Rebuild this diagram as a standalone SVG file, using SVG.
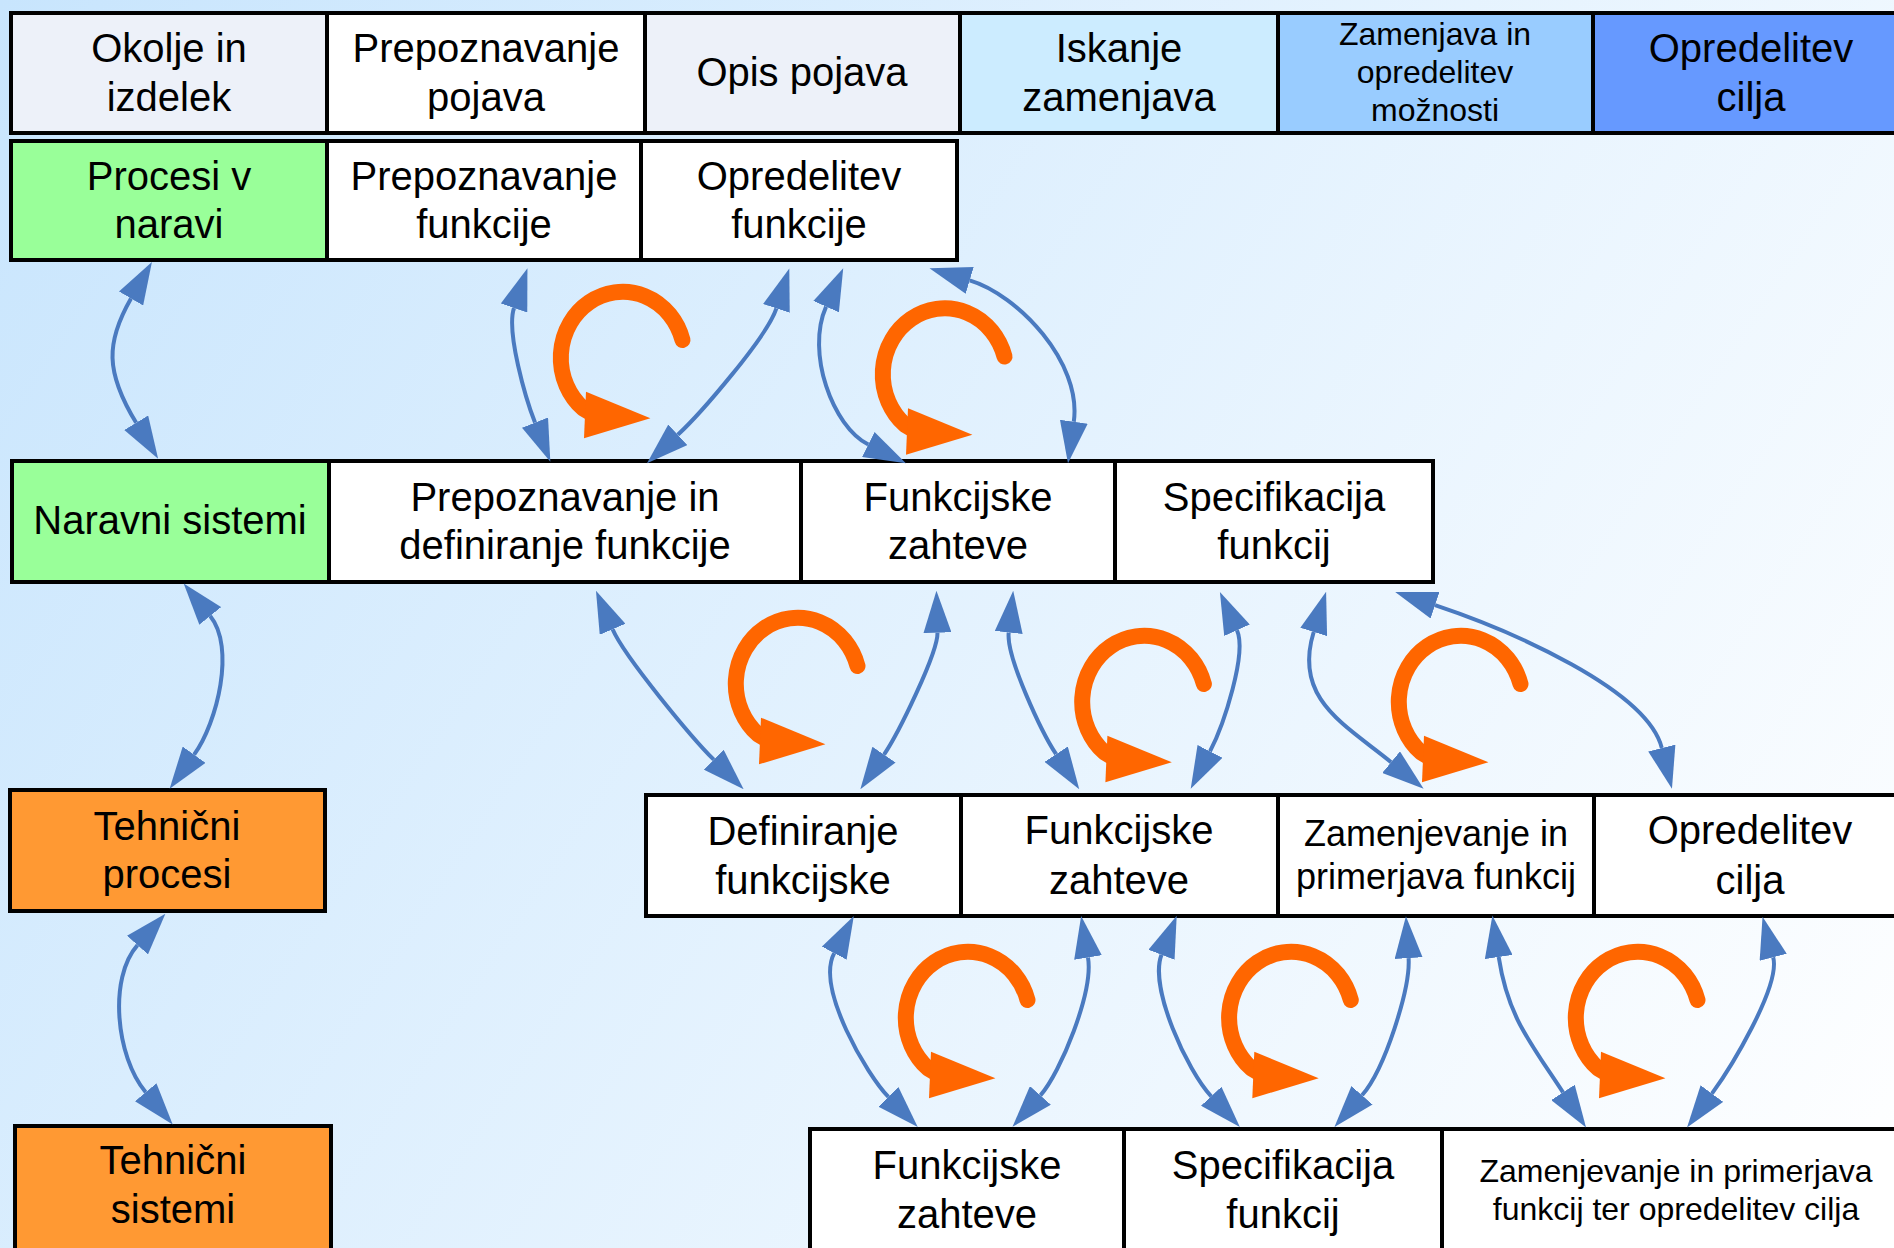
<svg xmlns="http://www.w3.org/2000/svg" xmlns:xlink="http://www.w3.org/1999/xlink" width="1894" height="1248" viewBox="0 0 1894 1248">
<style>
.box{stroke:#000;stroke-width:4}
.t{font-family:"Liberation Sans",Arial,Helvetica,sans-serif;font-size:40px;text-anchor:middle;fill:#000}
.s{font-size:32px}
.m{font-size:36px}
.conn{fill:none;stroke:#4A7AC0;stroke-width:4;marker-start:url(#ah);marker-end:url(#ah)}
</style>
<defs>
<linearGradient id="bg" x1="0" y1="0" x2="1894" y2="1248" gradientUnits="userSpaceOnUse">
<stop offset="0" stop-color="#C8E5FD"/>
<stop offset="1" stop-color="#FFFFFF"/>
</linearGradient>
<marker id="ah" viewBox="0 0 42 28" refX="0" refY="14" markerWidth="42" markerHeight="28" markerUnits="userSpaceOnUse" orient="auto-start-reverse">
<path d="M0,0L42,14L0,28z" fill="#4A7AC0"/>
</marker>
<g id="loop">
<path d="M59.5,-18 A62,66 0 1 0 -40,50.4 L-24,60" fill="none" stroke="#FF6600" stroke-width="16" stroke-linecap="round" stroke-linejoin="round"/>
<polygon points="-37,33.7 -39,80.3 27.4,60.3" fill="#FF6600"/>
</g>
</defs>
<rect x="0" y="0" width="1894" height="1248" fill="url(#bg)"/>

<g id="n-okolje"><rect class="box" x="11" y="13" width="316" height="120" fill="#EDF1F9"/><text class="t" x="169" y="62">Okolje in</text><text class="t" x="169" y="111">izdelek</text></g>
<g id="n-prep-pojava"><rect class="box" x="327" y="13" width="318" height="120" fill="#FFFFFF"/><text class="t" x="486" y="62">Prepoznavanje</text><text class="t" x="486" y="111">pojava</text></g>
<g id="n-opis-pojava"><rect class="box" x="645" y="13" width="315" height="120" fill="#EDF1F9"/><text class="t" x="802" y="86">Opis pojava</text></g>
<g id="n-iskanje"><rect class="box" x="960" y="13" width="318" height="120" fill="#CCECFF"/><text class="t" x="1119" y="62">Iskanje</text><text class="t" x="1119" y="111">zamenjava</text></g>
<g id="n-zamenjava"><rect class="box" x="1278" y="13" width="315" height="120" fill="#99CCFF"/><text class="t s" x="1435" y="45">Zamenjava in</text><text class="t s" x="1435" y="83">opredelitev</text><text class="t s" x="1435" y="121">možnosti</text></g>
<g id="n-opredelitev-cilja-top"><rect class="box" x="1593" y="13" width="320" height="120" fill="#6699FF"/><text class="t" x="1751" y="62">Opredelitev</text><text class="t" x="1751" y="111">cilja</text></g>

<g id="n-procesi-v-naravi"><rect class="box" x="11" y="141" width="316" height="119" fill="#99FF99"/><text class="t" x="169" y="190">Procesi v</text><text class="t" x="169" y="238">naravi</text></g>
<g id="n-prep-funkcije"><rect class="box" x="327" y="141" width="314" height="119" fill="#FFFFFF"/><text class="t" x="484" y="190">Prepoznavanje</text><text class="t" x="484" y="238">funkcije</text></g>
<g id="n-opredelitev-funkcije"><rect class="box" x="641" y="141" width="316" height="119" fill="#FFFFFF"/><text class="t" x="799" y="190">Opredelitev</text><text class="t" x="799" y="238">funkcije</text></g>

<g id="n-naravni-sistemi"><rect class="box" x="12" y="461" width="317" height="121" fill="#99FF99"/><text class="t" x="170" y="534">Naravni sistemi</text></g>
<g id="n-prep-def-funkcije"><rect class="box" x="329" y="461" width="472" height="121" fill="#FFFFFF"/><text class="t" x="565" y="511">Prepoznavanje in</text><text class="t" x="565" y="559">definiranje funkcije</text></g>
<g id="n-funkcijske-zahteve-3"><rect class="box" x="801" y="461" width="314" height="121" fill="#FFFFFF"/><text class="t" x="958" y="511">Funkcijske</text><text class="t" x="958" y="559">zahteve</text></g>
<g id="n-specifikacija-3"><rect class="box" x="1115" y="461" width="318" height="121" fill="#FFFFFF"/><text class="t" x="1274" y="511">Specifikacija</text><text class="t" x="1274" y="559">funkcij</text></g>

<g id="n-tehnicni-procesi"><rect class="box" x="10" y="790" width="315" height="121" fill="#FF9933"/><text class="t" x="167" y="840">Tehnični</text><text class="t" x="167" y="888">procesi</text></g>
<g id="n-definiranje"><rect class="box" x="646" y="795" width="315" height="121" fill="#FFFFFF"/><text class="t" x="803" y="845">Definiranje</text><text class="t" x="803" y="894">funkcijske</text></g>
<g id="n-funkcijske-zahteve-4"><rect class="box" x="961" y="795" width="317" height="121" fill="#FFFFFF"/><text class="t" x="1119" y="844">Funkcijske</text><text class="t" x="1119" y="894">zahteve</text></g>
<g id="n-zamenjevanje-4"><rect class="box" x="1278" y="795" width="316" height="121" fill="#FFFFFF"/><text class="t m" x="1436" y="846">Zamenjevanje in</text><text class="t m" x="1436" y="889">primerjava funkcij</text></g>
<g id="n-opredelitev-cilja-4"><rect class="box" x="1594" y="795" width="320" height="121" fill="#FFFFFF"/><text class="t" x="1750" y="844">Opredelitev</text><text class="t" x="1750" y="894">cilja</text></g>

<g id="n-tehnicni-sistemi"><rect class="box" x="15" y="1126" width="316" height="140" fill="#FF9933"/><text class="t" x="173" y="1174">Tehnični</text><text class="t" x="173" y="1223">sistemi</text></g>
<g id="n-funkcijske-zahteve-5"><rect class="box" x="810" y="1129" width="314" height="140" fill="#FFFFFF"/><text class="t" x="967" y="1179">Funkcijske</text><text class="t" x="967" y="1228">zahteve</text></g>
<g id="n-specifikacija-5"><rect class="box" x="1124" y="1129" width="318" height="140" fill="#FFFFFF"/><text class="t" x="1283" y="1179">Specifikacija</text><text class="t" x="1283" y="1228">funkcij</text></g>
<g id="n-zamenjevanje-5"><rect class="box" x="1442" y="1129" width="472" height="140" fill="#FFFFFF"/><text class="t s" x="1676" y="1182">Zamenjevanje in primerjava</text><text class="t s" x="1676" y="1220">funkcij ter opredelitev cilja</text></g>

<g id="connectors">
<path class="conn" d="M131,298.5 C106,342 105,371.8 136.2,422.8"/>
<path class="conn" d="M210.2,616 C235.6,647.2 217.4,722.2 194.1,754.7"/>
<path class="conn" d="M137.5,945.1 C108.3,978 115.9,1056.8 145.7,1092.3"/>
<path class="conn" d="M514,308 C506,331.7 525.9,399.4 535,422.6"/>
<path class="conn" d="M776.4,308.4 C767.2,336.9 699.8,414.4 677.8,434.8"/>
<path class="conn" d="M826.1,306.6 C805.7,352.3 832.5,426.6 868.3,444.5"/>
<path class="conn" d="M969.7,280.3 C1017.6,294.6 1082.1,362.3 1073.8,421.7"/>
<path class="conn" d="M612.6,629.3 C624.5,656.9 692.5,738.6 713.8,759.7"/>
<path class="conn" d="M937.5,632.7 C938,652.7 898.1,733.9 884,754.6"/>
<path class="conn" d="M1008.7,632.5 C1006,657.4 1042.3,733.3 1056.1,754.2"/>
<path class="conn" d="M1237,630.3 C1247.2,653.2 1223.8,724.7 1210,751.4"/>
<path class="conn" d="M1313.7,632 C1293,699 1344.6,724.2 1391.1,762.2"/>
<path class="conn" d="M1435,605.2 C1511,630.6 1647.3,689.8 1661.8,748"/>
<path class="conn" d="M834.2,953.1 C815.5,988.5 867.4,1075.4 888.4,1096.9"/>
<path class="conn" d="M1088,957.5 C1093.7,992 1060.3,1073 1040.4,1095.4"/>
<path class="conn" d="M1161.5,954.8 C1148.8,987.5 1187.3,1070.7 1211.2,1096.3"/>
<path class="conn" d="M1408.6,958.1 C1410.5,988 1385,1068.9 1362,1095.3"/>
<path class="conn" d="M1498.7,957 C1507.7,1016.4 1530.1,1042.2 1563,1092.4"/>
<path class="conn" d="M1773.2,957.3 C1780.8,986.3 1729.7,1069.4 1711.9,1093.6"/>
<use xlink:href="#loop" href="#loop" transform="translate(623,358)"/>
<use xlink:href="#loop" href="#loop" transform="translate(945,374.5)"/>
<use xlink:href="#loop" href="#loop" transform="translate(798,684)"/>
<use xlink:href="#loop" href="#loop" transform="translate(1144.4,702)"/>
<use xlink:href="#loop" href="#loop" transform="translate(1461,702)"/>
<use xlink:href="#loop" href="#loop" transform="translate(968,1018)"/>
<use xlink:href="#loop" href="#loop" transform="translate(1291.3,1018)"/>
<use xlink:href="#loop" href="#loop" transform="translate(1638,1018)"/>
</g>
</svg>
